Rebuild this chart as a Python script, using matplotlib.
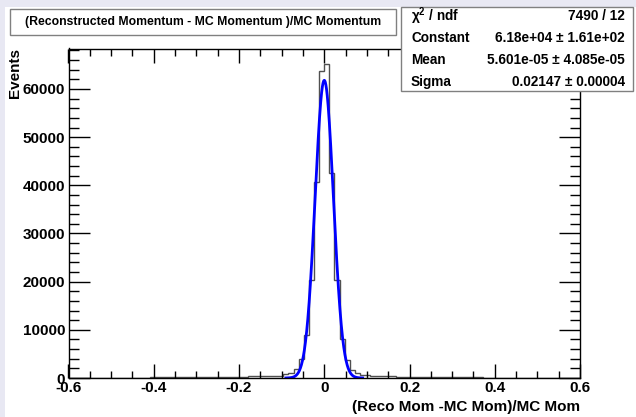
import numpy as np
import matplotlib

matplotlib.use("Agg")
import matplotlib.pyplot as plt  # noqa: E402
from matplotlib.patches import Rectangle  # noqa: E402
from matplotlib.ticker import MultipleLocator  # noqa: E402

# histogram: 100 bins between -0.6 and 0.6
bin_lo, bin_hi, n_bins = -0.6, 0.6, 100
counts = [
    60, 55, 65, 60, 70, 65, 70, 75, 70, 80,
    80, 85, 90, 90, 95, 100, 105, 110, 110, 120,
    125, 130, 140, 150, 160, 170, 180, 190, 200, 215,
    230, 245, 260, 280, 300, 320, 340, 360, 380, 400,
    430, 480, 770, 1100, 1800, 3850, 8900, 20300, 40700, 63700,
    65150, 42500, 20300, 8200, 3730, 1650, 1000, 650, 600, 450,
    420, 400, 380, 330, 300, 280, 260, 240, 220, 200,
    185, 170, 160, 150, 140, 130, 125, 120, 115, 110,
    105, 100, 95, 95, 90, 90, 85, 85, 80, 80,
    75, 75, 70, 70, 70, 65, 65, 60, 60, 60,
]

# gaussian fit result
fit_const = 6.18e4
fit_mean = 5.601e-05
fit_sigma = 0.02147
fit_range = (-0.09, 0.09)

stat_names = ["\u03c7$^{2}$ / ndf", "Constant", "Mean", "Sigma"]
stat_values = ["7490 / 12", "6.18e+04 \u00b1 1.61e+02",
               "5.601e-05 \u00b1 4.085e-05", "0.02147 \u00b1 0.00004"]

title = "(Reconstructed Momentum - MC Momentum )/MC Momentum"
xlabel = "(Reco Mom -MC Mom)/MC Mom"
ylabel = "Events"

W, H = 636, 417
plt.rcParams["font.family"] = ["Liberation Sans", "DejaVu Sans"]
plt.rcParams["font.weight"] = "bold"
plt.rcParams["mathtext.fontset"] = "custom"
plt.rcParams["mathtext.rm"] = "Liberation Sans:bold"

fig = plt.figure(figsize=(W / 100, H / 100), dpi=100, facecolor="#e8e8f3")


def px_rect(x0, y0, x1, y1, **kw):
    """Rectangle in pixel coords (origin top-left) placed on the figure."""
    return Rectangle((x0 / W, 1 - y1 / H), (x1 - x0) / W, (y1 - y0) / H,
                     transform=fig.transFigure, **kw)


# white pad, kept behind the axes
fig.patches.append(px_rect(5, 7, W, H, facecolor="white", edgecolor="none", zorder=-10))

ax = fig.add_axes([68.5 / W, 1 - 378 / H, (580 - 68.5) / W, (378 - 48.5) / H])
ax.set_zorder(1)
edges = np.linspace(bin_lo, bin_hi, n_bins + 1)
ax.stairs(counts, edges, color="#505050", linewidth=1)

xf = np.linspace(fit_range[0], fit_range[1], 400)
yf = fit_const * np.exp(-0.5 * ((xf - fit_mean) / fit_sigma) ** 2)
ax.plot(xf, yf, color="#0000ff", linewidth=2)

ax.set_xlim(bin_lo, bin_hi)
ax.set_ylim(0, 1.05 * max(counts))
ax.xaxis.set_major_locator(MultipleLocator(0.2))
ax.xaxis.set_minor_locator(MultipleLocator(0.05))
ax.yaxis.set_major_locator(MultipleLocator(10000))
ax.yaxis.set_minor_locator(MultipleLocator(2000))
ax.xaxis.set_major_formatter(lambda v, p: f"{v:g}" if abs(v) > 1e-9 else "0")
ax.tick_params(which="both", direction="in", top=True, right=True, width=1,
               labelsize=11, colors="black")
ax.tick_params(axis="x", which="major", length=10, pad=2)
ax.tick_params(axis="x", which="minor", length=5)
ax.tick_params(axis="y", which="major", length=15, pad=2.5)
ax.tick_params(axis="y", which="minor", length=7.5)
for s in ax.spines.values():
    s.set_linewidth(1)

fig.text(580 / W, 1 - 407 / H, xlabel, ha="right", va="center", fontsize=11)
fig.text(15 / W, 1 - 48.5 / H, ylabel, ha="center", va="top", rotation=90, fontsize=11)

# title box
fig.patches.append(px_rect(10, 9, 396, 35, facecolor="white", edgecolor="#808080",
                           linewidth=1, zorder=3))
fig.text(203 / W, 1 - 22 / H, title, ha="center", va="center", fontsize=8.8, zorder=4)

# stats box
fig.patches.append(px_rect(401, 7, 633, 91, facecolor="white", edgecolor="#808080",
                           linewidth=1, zorder=3))
for i, (name, val) in enumerate(zip(stat_names, stat_values)):
    y = 1 - (16 + 22 * i) / H
    fig.text(411 / W, y, name, ha="left", va="center", fontsize=9.8, zorder=4)
    fig.text(625 / W, y, val, ha="right", va="center", fontsize=9.8, zorder=4)

fig.savefig("out.png", dpi=100, facecolor=fig.get_facecolor())
